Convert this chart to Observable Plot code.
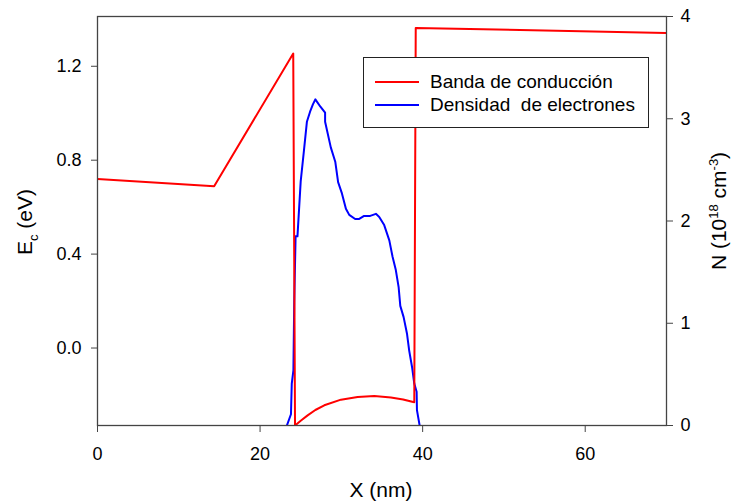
<!DOCTYPE html>
<html>
<head>
<meta charset="utf-8">
<script src="https://cdn.jsdelivr.net/npm/d3@7"></script>
<script src="https://cdn.jsdelivr.net/npm/@observablehq/plot@0.6"></script>
<style>
  html, body { margin: 0; padding: 0; background: #fff; }
  #wrap { position: relative; width: 731px; height: 502px; font-family: "Liberation Sans", Arial, sans-serif; color: #000; }
  #wrap svg { display: block; }
  .lbl { position: absolute; font-size: 21px; white-space: nowrap; line-height: 1; }
  .lbl sub, .lbl sup { font-size: 13px; }
  #xlabel { left: 381px; top: 489px; transform: translate(-50%, -50%); }
  #ylabel { left: 27px; top: 222px; transform: translate(-50%, -50%) rotate(-90deg); }
  #y2label { left: 718px; top: 211px; transform: translate(-50%, -50%) rotate(-90deg); }
  #legend { position: absolute; left: 363px; top: 57px; width: 286px; height: 71px; box-sizing: border-box;
            border: 1px solid #222; background: #fff; font-size: 19px; }
  .row { position: absolute; left: 11px; display: flex; align-items: center; white-space: pre; line-height: 1; }
  .sw { width: 44px; height: 0; border-top: 2px solid; margin-right: 11px; }
</style>
</head>
<body>
<div id="wrap"></div>
<script>
// Conduction band edge Ec (eV) vs X (nm)
const bandX = [0, 14.35, 24.08, 24.3, 25.0, 25.85, 26.8, 27.9, 29.95, 32.0, 34.05, 36.1, 37.6, 38.97, 39.15, 70];
const bandE = [0.72, 0.689, 1.254, -0.33, -0.31, -0.287, -0.264, -0.244, -0.220, -0.209, -0.204, -0.211, -0.219, -0.231, 1.363, 1.342];

// Electron density N (1e18 cm^-3) vs X (nm)
const densX = [23.3, 23.8, 23.9, 24.1, 24.2, 24.37, 24.6, 25.0, 25.4, 25.76, 26.2, 26.5, 26.8, 27.4, 28.0, 28.0, 28.7, 29.25, 29.6, 30.07, 30.56, 30.97, 31.7, 32.2, 32.8, 33.55, 34.25, 34.66, 35.27, 35.9, 36.3, 36.7, 37.05, 37.25, 37.66, 38.07, 38.35, 38.7, 38.97, 39.26, 39.3, 39.63];
const densN = [0, 0.11, 0.41, 0.54, 1.2, 1.85, 1.85, 2.39, 2.69, 2.97, 3.08, 3.14, 3.19, 3.12, 3.06, 2.97, 2.72, 2.58, 2.38, 2.27, 2.12, 2.06, 2.02, 2.02, 2.05, 2.05, 2.07, 2.04, 1.96, 1.81, 1.65, 1.52, 1.35, 1.17, 1.06, 0.90, 0.73, 0.57, 0.41, 0.33, 0.15, 0];

const xTicks = [0, 20, 40, 60];
const eTicks = [0.0, 0.4, 0.8, 1.2];
const nTicks = [0, 1, 2, 3, 4];
const eDomain = [-0.33, 1.412];
const nDomain = [0, 4];
const seriesNames = ["Banda de conducción", "Densidad  de electrones"];
const seriesColors = ["#ff0000", "#0000ff"];

// map the right-axis quantity (N) onto the left-axis scale (Ec)
const nToE = n => eDomain[0] + (n - nDomain[0]) * (eDomain[1] - eDomain[0]) / (nDomain[1] - nDomain[0]);
const eToN = e => nDomain[0] + (e - eDomain[0]) * (nDomain[1] - nDomain[0]) / (eDomain[1] - eDomain[0]);

const band = bandX.map((x, i) => ({x, y: bandE[i]}));
const dens = densX.map((x, i) => ({x, y: nToE(densN[i])}));

const axisColor = "#444";

const chart = Plot.plot({
  width: 731,
  height: 502,
  marginLeft: 97,
  marginRight: 65,
  marginTop: 16,
  marginBottom: 77,
  style: { fontFamily: "'Liberation Sans', Arial, sans-serif", fontSize: "18px", color: "#000", background: "#fff" },
  x: { domain: [0, 70] },
  y: { domain: eDomain },
  marks: [
    Plot.line(dens, { x: "x", y: "y", stroke: seriesColors[1], strokeWidth: 2, clip: true }),
    Plot.line(band, { x: "x", y: "y", stroke: seriesColors[0], strokeWidth: 2, clip: true }),
    Plot.frame({ stroke: axisColor, strokeWidth: 1.3 }),
    Plot.axisX({ ticks: xTicks, tickSize: 7, tickPadding: 15, stroke: axisColor, fill: "#000", label: null, fontSize: 18 }),
    Plot.axisY({ ticks: eTicks, tickFormat: d => d.toFixed(1), tickSize: 6, tickPadding: 10, stroke: axisColor, fill: "#000", label: null, fontSize: 18 }),
    Plot.axisY({ anchor: "right", ticks: nTicks.map(nToE), tickFormat: d => String(Math.round(eToN(d))), tickSize: 6, tickPadding: 8, stroke: axisColor, fill: "#000", label: null, fontSize: 18 })
  ]
});

const wrap = document.getElementById("wrap");
wrap.appendChild(chart);

function addLabel(id, html) {
  const d = document.createElement("div");
  d.className = "lbl";
  d.id = id;
  d.innerHTML = html;
  wrap.appendChild(d);
}
addLabel("xlabel", "X (nm)");
addLabel("ylabel", "E<sub>c</sub> (eV)");
addLabel("y2label", "N (10<sup>18</sup> cm<sup>-3</sup>)");

const legend = document.createElement("div");
legend.id = "legend";
seriesNames.forEach((name, i) => {
  const r = document.createElement("div");
  r.className = "row";
  r.style.top = (i === 0 ? 14 : 37) + "px";
  const sw = document.createElement("span");
  sw.className = "sw";
  sw.style.borderColor = seriesColors[i];
  const t = document.createElement("span");
  t.textContent = name;
  r.appendChild(sw);
  r.appendChild(t);
  legend.appendChild(r);
});
wrap.appendChild(legend);
</script>
</body>
</html>
